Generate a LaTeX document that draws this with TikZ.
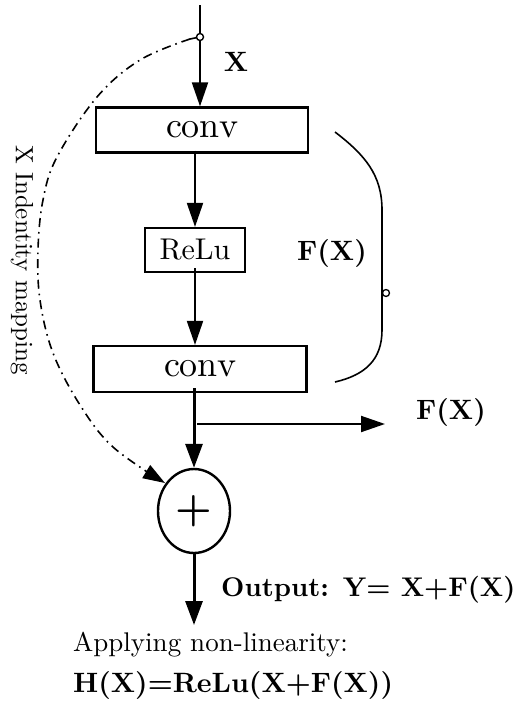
\documentclass[tikz,border=0pt]{standalone}
\usepackage{fontspec}
\setmainfont{lmroman10-regular.otf}[BoldFont=lmroman10-bold.otf,ItalicFont=lmroman10-italic.otf]
\usetikzlibrary{arrows.meta,calc,shapes.geometric}
\tikzset{
  box/.style={draw,line width=2.2pt,rectangle,inner sep=0pt},
  arr/.style={line width=2pt,-{Triangle[length=24pt,width=16pt]}},
  thickarr/.style={line width=3pt,-{Triangle[length=24pt,width=17pt]}},
  dashdot/.style={line width=1.6pt,dash pattern=on 9pt off 5pt on 1.6pt off 5pt},
  lbl/.style={font=\fontsize{28}{32}\selectfont\bfseries,inner sep=0pt},
}
\begin{document}
\begin{tikzpicture}[x=1pt,y=-1pt]
\useasboundingbox (0,0) rectangle (523,704);
% nodes
\coordinate (in) at (200,5);
\coordinate (split) at (200,37);
\node[box,minimum width=212pt,minimum height=45pt,font=\fontsize{36}{40}\selectfont] (conv1) at (202,130) {conv};
\node[box,minimum width=100pt,minimum height=44pt,font=\fontsize{30}{34}\selectfont] (relu) at (195,250) {ReLu};
\node[box,minimum width=213pt,minimum height=46pt,font=\fontsize{36}{40}\selectfont] (conv2) at (200,369) {conv};
\node[draw,line width=2.4pt,ellipse,minimum width=72pt,minimum height=84pt,inner sep=0pt,font=\fontsize{41}{46}\selectfont\bfseries] (sum) at (194,511) {+};
\coordinate (out) at (194,625);
\coordinate (br) at (197,424);
\coordinate (fx) at (385,424);
% labels
\node[lbl] (xl) at (236,62) {X};
\node[lbl] (fxr) at (451,412) {F(X)};
\node[lbl] (fxb) at (332,253) {F(X)};
\node[lbl,anchor=west,font=\fontsize{27}{30}\selectfont\bfseries] (outl) at (221,590) {Output: Y= X+F(X)};
\node[inner sep=0pt,anchor=west,font=\fontsize{27}{30}\selectfont] (apl) at (73,645) {Applying non-linearity:};
\node[lbl,anchor=west] (hx) at (73,685) {H(X)=ReLu(X+F(X))};
\node[inner sep=0pt,rotate=-90,font=\fontsize{25}{28}\selectfont] (idm) at (22,260) {X Indentity mapping};
% connectors
\draw[arr] (in) -- (conv1.north -| in);
\draw[arr] ($(conv1.south -| relu.north)+(0,-3)$) -- (relu.north);
\draw[arr] ($(relu.south)+(0,-5)$) -- (relu.south |- conv2.north);
\draw[thickarr] ($(conv2.south -| sum.north)+(0,-5)$) -- (sum.north);
\draw[arr] (br) -- (fx);
\draw[thickarr] (sum.south) -- (out);
% identity shortcut
\draw[line width=1.6pt] (split) -- (190,39);
\draw[dashdot,-{Triangle[length=22pt,width=15pt]}] plot[smooth,tension=0.6] coordinates {(190,39) (140,60) (97,97) (57,157) (43,200) (38,250) (40,300) (53,353) (80,405) (113,447) (165,483)};
\draw[line width=1.4pt,fill=white] (split) circle (3.5pt);
% brace
\draw[line width=1.6pt] (335,132) .. controls (365,155) and (382,175) .. (382,210) -- (382,330) .. controls (382,360) and (365,375) .. (335,382);
\draw[line width=1.3pt,fill=white] (386,293) circle (3.5pt);
\end{tikzpicture}
\end{document}
